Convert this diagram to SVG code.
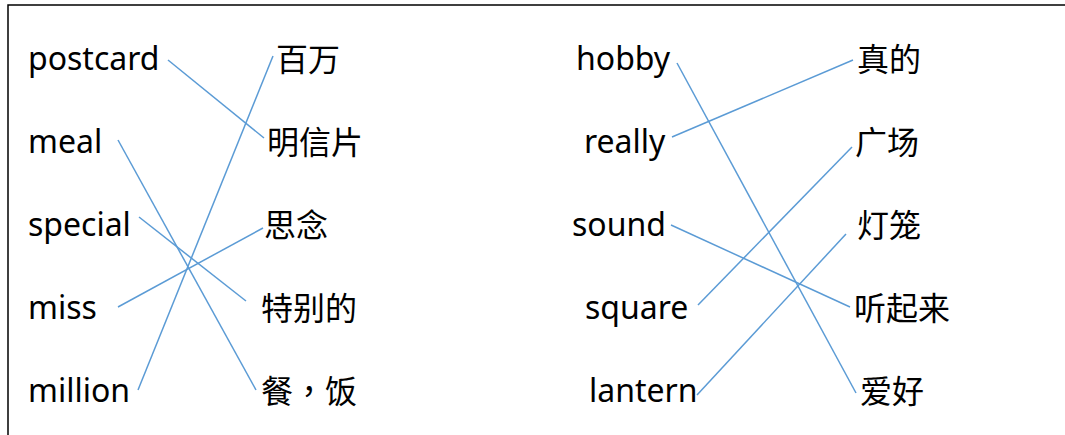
<svg xmlns="http://www.w3.org/2000/svg" width="1065" height="435" viewBox="0 0 1065 435">
<style>
.en{font-family:"Noto Sans","Open Sans","Liberation Sans",sans-serif;font-size:32px;fill:#000}
.zh{font-family:"Noto Sans CJK SC","Noto Sans",sans-serif;font-size:32px;fill:#000}
.tc{font-family:"Noto Sans CJK TC","Noto Sans CJK SC",sans-serif}
.ln{stroke:#5B9BD5;stroke-width:1.5;fill:none}
.frame{stroke:#000;stroke-width:1.5;fill:none}
</style>
<rect width="1065" height="435" fill="#fff"/>
<path class="frame" d="M8,435 V5 H1065"/>
<g id="left-en">
<g id="postcard"><text class="en" x="28" y="70">postcard</text></g>
<g id="meal"><text class="en" x="28" y="153">meal</text></g>
<g id="special"><text class="en" x="28" y="236">special</text></g>
<g id="miss"><text class="en" x="28" y="319">miss</text></g>
<g id="million"><text class="en" x="28" y="402">million</text></g>
</g>
<g id="left-zh">
<g id="baiwan"><text class="zh" x="276" y="71">百万</text></g>
<g id="mingxinpian"><text class="zh" x="267" y="154">明信片</text></g>
<g id="sinian"><text class="zh" x="264" y="237">思念</text></g>
<g id="tebiede"><text class="zh" x="261" y="320">特别的</text></g>
<g id="canfan"><text class="zh tc" x="261" y="403">餐，饭</text></g>
</g>
<g id="right-en">
<g id="hobby"><text class="en" x="576" y="70">hobby</text></g>
<g id="really"><text class="en" x="584" y="153">really</text></g>
<g id="sound"><text class="en" x="572" y="236">sound</text></g>
<g id="square"><text class="en" x="585" y="319">square</text></g>
<g id="lantern"><text class="en" x="589" y="402">lantern</text></g>
</g>
<g id="right-zh">
<g id="zhende"><text class="zh" x="857" y="71">真的</text></g>
<g id="guangchang"><text class="zh" x="855" y="154">广场</text></g>
<g id="denglong"><text class="zh" x="857" y="237">灯笼</text></g>
<g id="tingqilai"><text class="zh" x="854" y="320">听起来</text></g>
<g id="aihao"><text class="zh" x="860" y="403">爱好</text></g>
</g>
<g id="connectors">
<line class="ln" x1="168" y1="60" x2="264" y2="138"/>
<line class="ln" x1="118" y1="140" x2="256" y2="390"/>
<line class="ln" x1="273" y1="56" x2="138" y2="390"/>
<line class="ln" x1="139" y1="217" x2="246" y2="301"/>
<line class="ln" x1="118" y1="307" x2="263" y2="228"/>
<line class="ln" x1="677" y1="63" x2="856" y2="393"/>
<line class="ln" x1="672" y1="137" x2="853" y2="60"/>
<line class="ln" x1="698" y1="305" x2="852" y2="147"/>
<line class="ln" x1="671" y1="225" x2="850" y2="307"/>
<line class="ln" x1="697" y1="395" x2="846" y2="234"/>
</g>
</svg>
